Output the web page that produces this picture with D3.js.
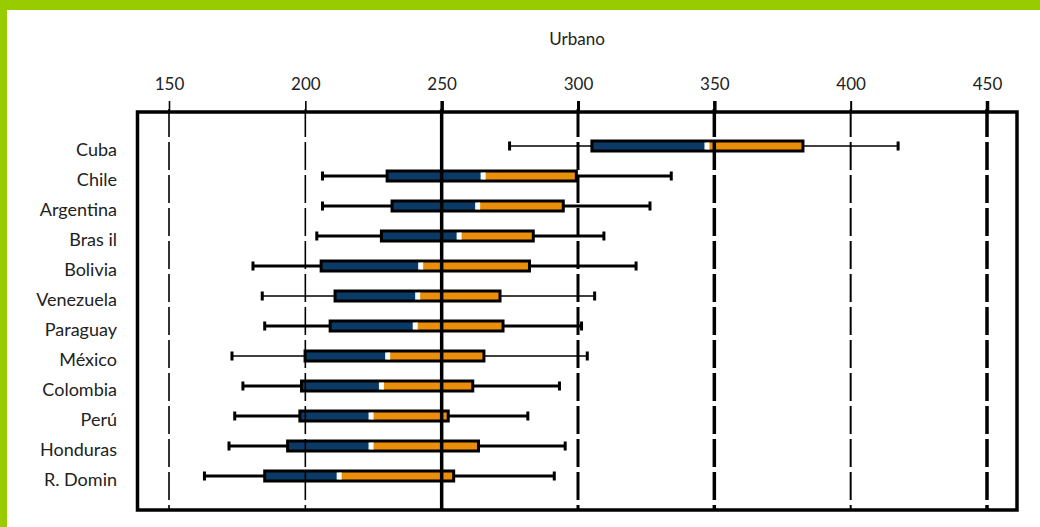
<!DOCTYPE html>
<html>
<head>
<meta charset="utf-8">
<script src="https://cdn.jsdelivr.net/npm/d3@7"></script>
<style>
  html, body { margin: 0; padding: 0; background: #fff; }
  svg { display: block; }
  text { font-family: Lato, "Open Sans", "DejaVu Sans", sans-serif; fill: #222; }
</style>
</head>
<body>
<svg id="chart" width="1040" height="527"></svg>
<script>
// Countries, top to bottom
const countries = ["Cuba", "Chile", "Argentina", "Bras il", "Bolivia", "Venezuela",
                   "Paraguay", "México", "Colombia", "Perú", "Honduras", "R. Domin"];
// Whisker ends and quartiles per country
const minValues    = [274.9, 206.3, 206.3, 204.2, 180.8, 184.2, 185.1, 173.1, 177.1, 174.1, 172.0, 163.0];
const q1Values     = [305.1, 230.0, 231.8, 227.9, 205.8, 210.9, 209.1, 199.9, 198.6, 198.0, 193.5, 185.1];
const medianValues = [347.3, 265.2, 263.2, 256.4, 242.3, 241.2, 240.3, 230.2, 227.9, 224.1, 224.1, 212.4];
const q3Values     = [382.5, 299.4, 294.6, 283.6, 282.2, 271.4, 272.5, 265.5, 261.4, 252.4, 263.5, 254.4];
const maxValues    = [417.4, 334.2, 326.4, 309.5, 321.3, 306.1, 301.3, 303.4, 293.2, 281.6, 295.3, 291.3];
// Axis ticks
const tickValues = [150, 200, 250, 300, 350, 400, 450];
const title = "Urbano";

const rows = countries.map((c, i) => ({
  country: c, min: minValues[i], q1: q1Values[i], median: medianValues[i],
  q3: q3Values[i], max: maxValues[i]
}));

const svg = d3.select("#chart");
const W = 1040, H = 527;
const frame = { left: 137.5, right: 1017, top: 112, bottom: 510 };

const x = d3.scaleLinear().domain([150, 450]).range([169, 987]);
const y = d3.scalePoint().domain(countries).range([146, 476]);

const navy = "#0c3a66", orange = "#ea8e0b", lime = "#99cc00";

// Background and lime border strips
svg.append("rect").attr("width", W).attr("height", H).attr("fill", "#fff");
svg.append("rect").attr("x", 0).attr("y", 0).attr("width", W).attr("height", 10).attr("fill", lime);
svg.append("rect").attr("x", 0).attr("y", 0).attr("width", 7).attr("height", H).attr("fill", lime);

// Title
svg.append("text").attr("x", 577).attr("y", 45).attr("text-anchor", "middle")
  .attr("font-size", 17).text(title);

// Top axis: labels and ticks
const gridStyle = { 150: 1.6, 200: 1.6, 250: 3.5, 300: 3, 350: 3.5, 400: 2, 450: 3.5 };
const axis = d3.axisTop(x).tickValues(tickValues).tickSize(11).tickPadding(11)
  .tickFormat(d3.format("d"));
const gAxis = svg.append("g").attr("transform", `translate(0,${frame.top})`).call(axis);
gAxis.select(".domain").remove();
gAxis.selectAll(".tick line").attr("stroke", "#000").attr("stroke-width", d => gridStyle[d]);
gAxis.selectAll(".tick text").attr("font-size", 17).attr("fill", "#222")
  .style("font-family", "Lato, 'Open Sans', sans-serif");

// Country labels
svg.append("g").selectAll("text").data(rows).join("text")
  .attr("x", 117).attr("y", d => y(d.country) + 10)
  .attr("text-anchor", "end").attr("font-size", 18)
  .text(d => d.country);

// Whiskers
const thinWhisker = new Set(["Cuba", "Venezuela", "México"]);
const gW = svg.append("g");
gW.selectAll("line").data(rows).join("line")
  .attr("x1", d => x(d.min)).attr("x2", d => x(d.max))
  .attr("y1", d => y(d.country)).attr("y2", d => y(d.country))
  .attr("stroke", "#000").attr("stroke-width", d => thinWhisker.has(d.country) ? 1.4 : 3);
["min", "max"].forEach(k => {
  gW.append("g").selectAll("rect").data(rows).join("rect")
    .attr("x", d => x(d[k]) - 1.5).attr("y", d => y(d.country) - 4.5)
    .attr("width", 3).attr("height", 9).attr("fill", "#000");
});

// Boxes: black outline, navy from Q1 to median, orange from median to Q3, white median mark
const outerH = 13, border = 3;
const innerH = outerH - 2 * border;
const gB = svg.append("g");
gB.selectAll("rect.outline").data(rows).join("rect").attr("class", "outline")
  .attr("x", d => x(d.q1) - 1.5).attr("y", d => y(d.country) - outerH / 2)
  .attr("width", d => x(d.q3) - x(d.q1) + 3).attr("height", outerH)
  .attr("fill", "#000");
gB.selectAll("rect.low").data(rows).join("rect").attr("class", "low")
  .attr("x", d => x(d.q1) + 1.5).attr("y", d => y(d.country) - innerH / 2)
  .attr("width", d => x(d.median) - x(d.q1) - 1.5).attr("height", innerH)
  .attr("fill", navy);
gB.selectAll("rect.high").data(rows).join("rect").attr("class", "high")
  .attr("x", d => x(d.median)).attr("y", d => y(d.country) - innerH / 2)
  .attr("width", d => x(d.q3) - x(d.median) - 1.5).attr("height", innerH)
  .attr("fill", orange);
gB.selectAll("rect.med").data(rows).join("rect").attr("class", "med")
  .attr("x", d => x(d.median) - 2.5).attr("y", d => y(d.country) - innerH / 2)
  .attr("width", 5).attr("height", innerH)
  .attr("fill", "#fff");

// Vertical reference lines inside the frame
svg.append("g").selectAll("line").data(tickValues).join("line")
  .attr("x1", d => x(d)).attr("x2", d => x(d))
  .attr("y1", frame.top - 3).attr("y2", frame.bottom)
  .attr("stroke", "#000").attr("stroke-width", d => gridStyle[d])
  .attr("stroke-dasharray", d => d === 250 ? null : "28,5");

// Plot frame
svg.append("rect")
  .attr("x", frame.left).attr("y", frame.top)
  .attr("width", frame.right - frame.left).attr("height", frame.bottom - frame.top)
  .attr("fill", "none").attr("stroke", "#000").attr("stroke-width", 3.5);
</script>
</body>
</html>
